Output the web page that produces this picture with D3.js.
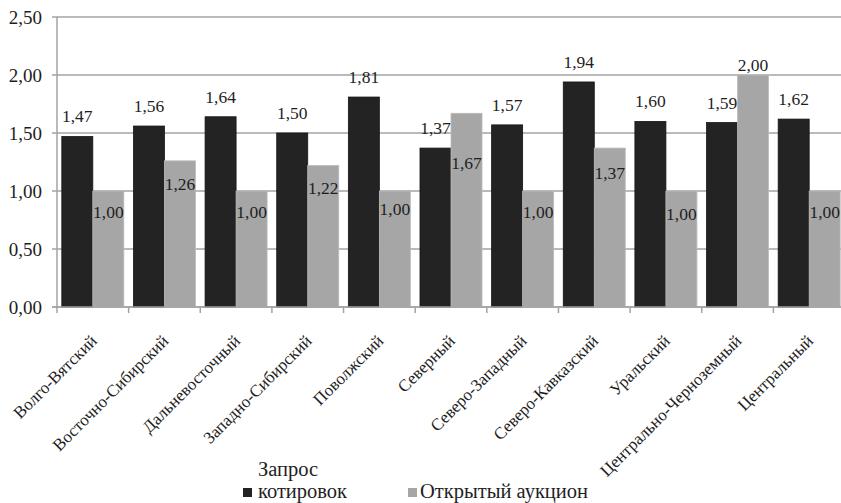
<!DOCTYPE html>
<html><head><meta charset="utf-8"><script src="https://cdn.jsdelivr.net/npm/d3@7"></script></head>
<body style="margin:0">
<svg id="chart" width="841" height="503" font-family="Liberation Serif"></svg>
<script>
// ---- data ----
const categories = ["Волго-Вятский", "Восточно-Сибирский", "Дальневосточный", "Западно-Сибирский", "Поволжский", "Северный", "Северо-Западный", "Северо-Кавказский", "Уральский", "Центрально-Черноземный", "Центральный"];
const quoteRequest = [1.47, 1.56, 1.64, 1.50, 1.81, 1.37, 1.57, 1.94, 1.60, 1.59, 1.62];
const openAuction = [1.00, 1.26, 1.00, 1.22, 1.00, 1.67, 1.00, 1.37, 1.00, 2.00, 1.00];
const yTicks = [0, 0.5, 1.0, 1.5, 2.0, 2.5];
const seriesNames = ["Запрос котировок", "Открытый аукцион"];
// label nudges (pixels, styling only) for the second series, as placed in the original
const auctionLabelDy = [27, 29, 27, 29, 24, 56, 27, 31, 29, -4, 27];

// ---- layout ----
const TXT = "#1e1e1e";
const svg = d3.select("#chart");
const mLeft = 57, mTop = 17, mBottom = 307, mRight = 845;
const colors = ["#232323", "#a6a6a6"];
const strokes = ["#161616", "#bcbcbc"];

const fmt = d3.formatLocale({decimal: ",", thousands: " ", grouping: [3], currency: ["", ""]}).format(".2f");

const x = d3.scaleBand().domain(categories).range([mLeft, mRight]).paddingInner(0).paddingOuter(0);
const xs = d3.scaleBand().domain([0, 1]).range([0, x.bandwidth()]).paddingInner(0).paddingOuter(0.155);
const y = d3.scaleLinear().domain([0, 2.5]).range([mBottom, mTop]);

function styleText(sel, size) {
  return sel.attr("font-family", "Liberation Serif").attr("font-size", size).attr("fill", TXT);
}

// gridlines
svg.append("g").selectAll("line").data(yTicks).join("line")
  .attr("x1", mLeft - 5).attr("x2", 841)
  .attr("y1", d => y(d)).attr("y2", d => y(d))
  .attr("stroke", "#a3a3a3").attr("stroke-width", 1.5);

// y axis labels
styleText(svg.append("g").selectAll("text").data(yTicks).join("text"), 19)
  .attr("x", 42).attr("y", d => y(d) + 6.5)
  .attr("text-anchor", "end")
  .text(d => fmt(d));

// bars
const series = [quoteRequest, openAuction];
series.forEach((vals, si) => {
  svg.append("g").selectAll("rect").data(vals).join("rect")
    .attr("x", (d, i) => x(categories[i]) + xs(si))
    .attr("width", xs.bandwidth())
    .attr("y", d => y(d))
    .attr("height", d => mBottom - y(d))
    .attr("fill", colors[si])
    .attr("stroke", strokes[si]).attr("stroke-width", 0.8);
});

// axes lines
svg.append("line").attr("x1", mLeft).attr("x2", mLeft).attr("y1", mTop).attr("y2", mBottom + 1)
  .attr("stroke", "#a3a3a3").attr("stroke-width", 1.5);
svg.append("line").attr("x1", mLeft - 5).attr("x2", 841).attr("y1", mBottom).attr("y2", mBottom)
  .attr("stroke", "#a3a3a3").attr("stroke-width", 1.5);
svg.append("g").selectAll("line").data(categories).join("line")
  .attr("x1", d => x(d)).attr("x2", d => x(d))
  .attr("y1", mBottom).attr("y2", mBottom + 6)
  .attr("stroke", "#a3a3a3").attr("stroke-width", 1.5);

// value labels
styleText(svg.append("g").selectAll("text").data(quoteRequest).join("text"), 17.5)
  .attr("x", (d, i) => x(categories[i]) + xs(0) + xs.bandwidth() / 2)
  .attr("y", d => y(d) - 14)
  .attr("text-anchor", "middle")
  .text(d => fmt(d));
styleText(svg.append("g").selectAll("text").data(openAuction).join("text"), 17.5)
  .attr("x", (d, i) => x(categories[i]) + xs(1) + xs.bandwidth() / 2)
  .attr("y", (d, i) => y(d) + auctionLabelDy[i])
  .attr("text-anchor", "middle")
  .text(d => fmt(d));

// category labels
styleText(svg.append("g").selectAll("text").data(categories).join("text"), 17)
  .attr("transform", d => `translate(${x(d) + x.bandwidth() / 2 + 5},${mBottom + 35}) rotate(-45)`)
  .attr("text-anchor", "end")
  .text(d => d);

// legend
const leg = svg.append("g");
leg.append("rect").attr("x", 243).attr("y", 488).attr("width", 9).attr("height", 9).attr("fill", colors[0]);
styleText(leg.append("text"), 20.5).attr("x", 258).attr("y", 476).text(seriesNames[0].split(" ")[0]);
styleText(leg.append("text"), 20.5).attr("x", 258).attr("y", 498).text(seriesNames[0].split(" ")[1]);
leg.append("rect").attr("x", 408).attr("y", 488).attr("width", 9).attr("height", 9).attr("fill", colors[1]);
styleText(leg.append("text"), 20.5).attr("x", 420).attr("y", 498).text(seriesNames[1]);
</script>
</body></html>
